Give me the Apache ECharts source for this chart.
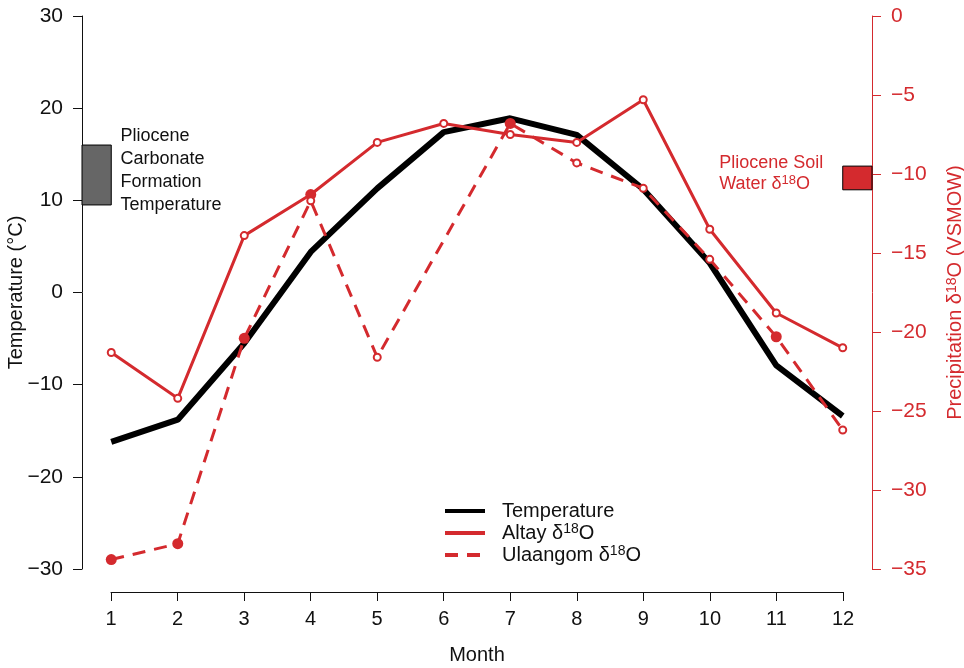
<!DOCTYPE html>
<html>
<head>
<meta charset="utf-8">
<script src="https://cdn.jsdelivr.net/npm/echarts@6/dist/echarts.min.js"></script>
<style>html,body{margin:0;background:#fff}#main{width:964px;height:668px}</style>
</head>
<body>
<div id="main"></div>
<script>
var months = [1,2,3,4,5,6,7,8,9,10,11,12];
var temperature = [-16.2,-13.8,-5.5,4.4,11.3,17.4,18.9,17.1,11.2,3.2,-7.9,-13.4];
var altay = [-21.3,-24.2,-13.9,-11.3,-8.0,-6.8,-7.5,-8.0,-5.3,-13.5,-18.8,-21.0];
var ulaangom = [-34.4,-33.4,-20.4,-11.7,-21.6,null,-6.8,-9.3,-10.9,-15.4,-20.3,-26.2];
// months where the original shows a solid dot instead of a ring
var altayFilled = [4];
var ulaangomFilled = [1,2,3,7,11];
// pliocene ranges (boxes on the axes)
var carbonateTemp = [9.5, 16];
var soilWater = [-9.5, -11];

var RED = '#d42a2e';
var FONT = '"Liberation Sans", Arial, sans-serif';
// R style 4% padding of the x range
var xPad = (months[months.length-1] - months[0]) * 0.04;
var xMin = months[0] - xPad, xMax = months[months.length-1] + xPad;

function minus(v) { return String(v).replace('-', '\u2212'); }
function sup(s) { return s.replace('δ18', 'δ{sup|18}'); }
function supRich(size) {
    return { sup: { fontSize: size, verticalAlign: 'top', lineHeight: size, fontFamily: FONT } };
}

function pts(vals, filled) {
    return months.map(function (m, i) {
        if (vals[i] == null) return [m, '-'];
        if (filled && filled.indexOf(m) >= 0) {
            return { value: [m, vals[i]], symbol: 'circle', symbolSize: 11 };
        }
        return [m, vals[i]];
    });
}

var myChart = echarts.init(document.getElementById('main'));
var option = {
    backgroundColor: '#fff',
    animation: false,
    textStyle: { fontFamily: FONT },
    grid: [
        { left: 82, right: 92, top: 16, bottom: 99, containLabel: false, outerBoundsMode: 'none' },
        { left: 111, right: 121, top: 16, bottom: 99, containLabel: false, outerBoundsMode: 'none' }
    ],
    legend: {
        orient: 'vertical',
        left: 438, top: 495,
        itemWidth: 40, itemHeight: 14, itemGap: 0,
        itemStyle: { opacity: 0 },
        lineStyle: { width: 4 },
        formatter: sup,
        textStyle: {
            fontSize: 20, color: '#111', lineHeight: 22, padding: [0, 0, 0, 12], fontFamily: FONT,
            rich: supRich(14)
        },
        data: ['Temperature', 'Altay δ18O', 'Ulaangom δ18O']
    },
    xAxis: [
        { type: 'value', gridIndex: 0, min: xMin, max: xMax, show: false },
        {
            type: 'value', gridIndex: 1, min: 1, max: 12, interval: 1,
            position: 'bottom', offset: 23,
            name: 'Month', nameLocation: 'middle', nameGap: 53, nameMoveOverlap: false,
            nameTextStyle: { fontSize: 20, color: '#111', fontFamily: FONT },
            axisLine: { onZero: false, lineStyle: { color: '#111', width: 1 } },
            axisTick: { length: 9, lineStyle: { color: '#111' } },
            axisLabel: { fontSize: 20, color: '#111', margin: 17, fontFamily: FONT },
            splitLine: { show: false }
        }
    ],
    yAxis: [
        {
            type: 'value', gridIndex: 0, position: 'left', min: -30, max: 30, interval: 10,
            name: 'Temperature (°C)', nameLocation: 'middle', nameGap: 56, nameRotate: 90,
            nameMoveOverlap: false,
            nameTextStyle: { fontSize: 20, color: '#111', fontFamily: FONT },
            axisLine: { show: true, lineStyle: { color: '#111', width: 1 } },
            axisTick: { show: true, length: 9, lineStyle: { color: '#111' } },
            axisLabel: { fontSize: 21, color: '#111', margin: 19, formatter: minus, fontFamily: FONT },
            splitLine: { show: false }
        },
        {
            type: 'value', gridIndex: 0, position: 'right', min: -35, max: 0, interval: 5,
            name: sup('Precipitation δ18O (VSMOW)'), nameLocation: 'middle', nameGap: 73, nameRotate: 90,
            nameMoveOverlap: false,
            nameTextStyle: { fontSize: 20, color: RED, fontFamily: FONT, rich: supRich(14) },
            axisLine: { show: true, lineStyle: { color: RED, width: 1 } },
            axisTick: { show: true, length: 9, lineStyle: { color: RED } },
            axisLabel: { fontSize: 21, color: RED, margin: 19, formatter: minus, fontFamily: FONT },
            splitLine: { show: false }
        },
        { type: 'value', gridIndex: 1, min: 0, max: 1, show: false }
    ],
    series: [
        {
            name: 'Temperature', type: 'line', xAxisIndex: 0, yAxisIndex: 0,
            symbol: 'none', color: '#000',
            lineStyle: { color: '#000', width: 6 },
            data: pts(temperature),
            markArea: {
                silent: true,
                itemStyle: { color: '#666', borderColor: '#000', borderWidth: 1 },
                label: {
                    show: true, position: [39, -20], align: 'left', verticalAlign: 'top',
                    fontSize: 18, lineHeight: 23, color: '#111', fontFamily: FONT
                },
                data: [[
                    { name: 'Pliocene\nCarbonate\nFormation\nTemperature', xAxis: xMin, yAxis: carbonateTemp[0] },
                    { xAxis: months[0], yAxis: carbonateTemp[1] }
                ]]
            }
        },
        {
            name: 'Altay δ18O', type: 'line', xAxisIndex: 0, yAxisIndex: 1,
            symbol: 'emptyCircle', symbolSize: 7, color: RED,
            itemStyle: { color: RED, borderWidth: 4 },
            lineStyle: { color: RED, width: 3 },
            data: pts(altay, altayFilled),
            markArea: {
                silent: true,
                itemStyle: { color: RED, borderColor: '#000', borderWidth: 1 },
                label: {
                    show: true, position: [-123, -13], align: 'left', verticalAlign: 'top',
                    fontSize: 18, lineHeight: 21, color: RED, fontFamily: FONT,
                    rich: supRich(13)
                },
                data: [[
                    { name: 'Pliocene Soil\n' + sup('Water δ18O'), xAxis: months[months.length-1], yAxis: soilWater[0] },
                    { xAxis: xMax, yAxis: soilWater[1] }
                ]]
            }
        },
        {
            name: 'Ulaangom δ18O', type: 'line', xAxisIndex: 0, yAxisIndex: 1,
            symbol: 'emptyCircle', symbolSize: 7, color: RED, connectNulls: true,
            itemStyle: { color: RED, borderWidth: 4 },
            lineStyle: { color: RED, width: 3, type: [13, 9] },
            data: pts(ulaangom, ulaangomFilled)
        }
    ]
};
myChart.setOption(option);
</script>
</body>
</html>
